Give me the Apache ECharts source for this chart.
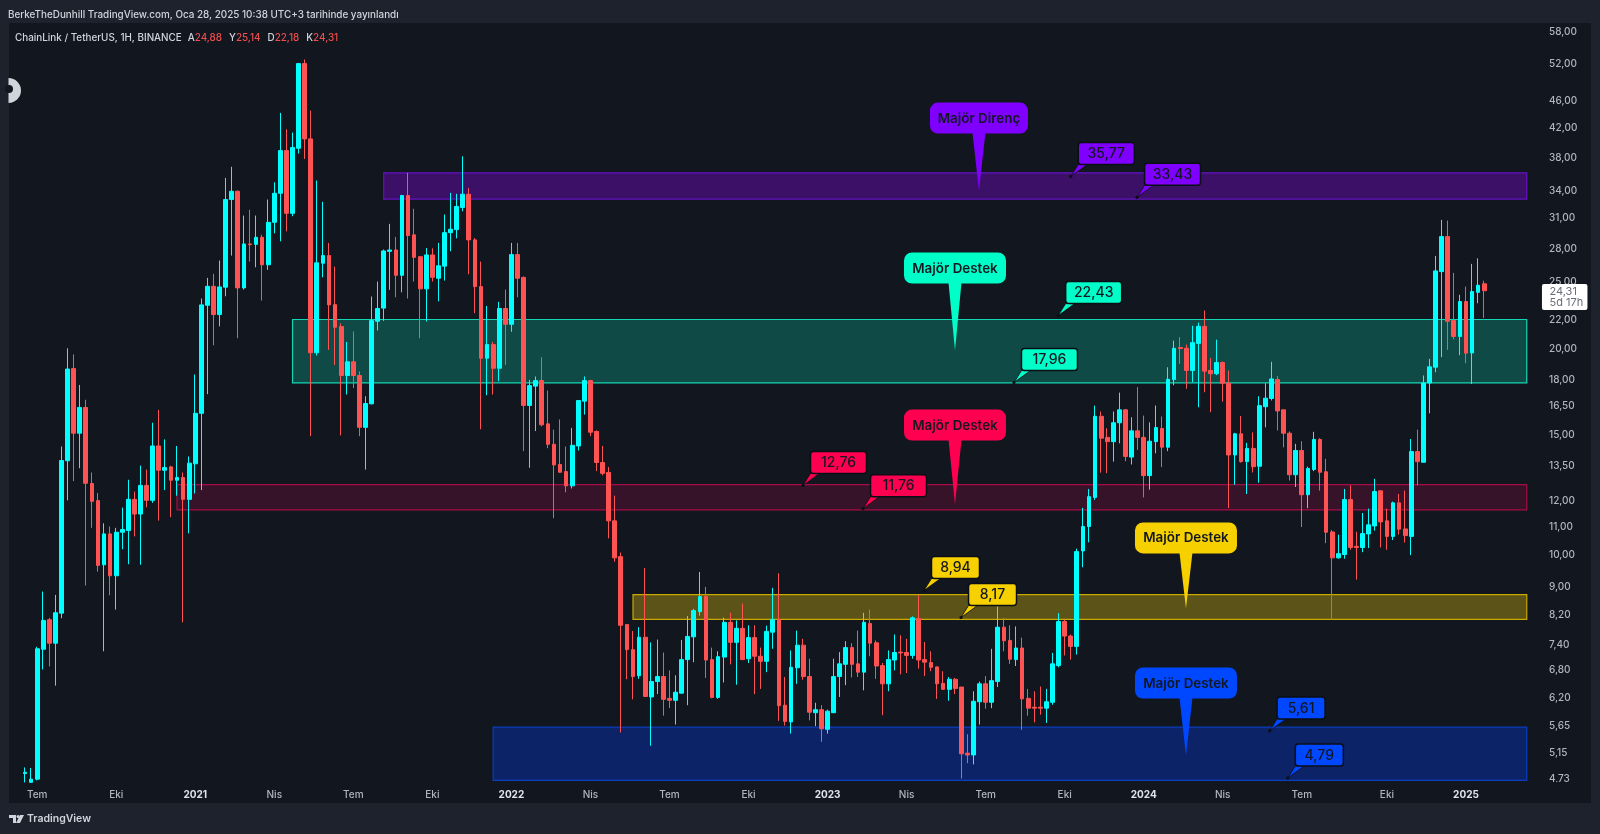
<!DOCTYPE html>
<html>
<head>
<meta charset="utf-8">
<style>html,body{margin:0;padding:0;background:#1e222d}#chart{width:1600px;height:834px}</style>
<script src="https://cdn.jsdelivr.net/npm/echarts@6/dist/echarts.min.js"></script>
</head>
<body>
<div id="chart"></div>
<script>
const opens = [
4.81,4.67,4.72,7.30,8.06,7.45,8.24,13.74,18.72,15.07,
16.43,12.73,12.02,9.69,10.75,9.34,10.81,10.87,12.07,11.49,
12.65,12.03,14.44,13.31,13.46,12.87,12.99,12.07,13.60,16.11,
23.15,24.67,22.44,24.60,33.01,33.94,24.54,28.44,28.40,29.08,
26.52,30.58,33.71,38.90,31.52,39.21,52.09,40.46,19.74,26.66,
27.35,23.20,21.55,18.29,19.15,18.29,15.37,16.63,21.94,22.93,
27.74,27.87,25.60,33.46,29.32,27.25,24.46,27.41,25.35,26.40,
29.54,29.84,32.14,33.60,28.83,24.65,19.38,20.29,18.74,22.90,
21.72,27.44,25.42,16.54,17.65,17.98,15.55,14.52,13.57,13.25,
12.63,14.44,16.78,17.98,15.16,13.66,13.21,11.23,9.96,7.93,
7.29,6.68,7.60,6.22,6.55,6.66,6.19,6.15,6.30,7.05,
7.61,8.28,8.72,7.05,6.21,7.11,7.99,7.47,7.83,7.07,
7.59,7.13,7.01,7.73,8.06,6.05,5.72,6.86,7.40,6.66,
5.90,5.96,5.58,5.90,6.66,6.94,7.34,6.95,6.76,7.96,
7.46,6.91,6.50,7.04,7.23,7.22,7.15,8.09,7.05,6.98,
6.88,6.51,6.38,6.60,6.43,5.15,5.12,6.12,6.50,6.11,
6.55,7.86,7.52,7.05,7.33,6.19,6.01,6.01,5.99,6.11,
6.91,8.01,7.63,7.37,10.15,11.02,12.15,15.95,14.86,14.65,
15.61,16.30,13.91,15.19,14.86,13.07,14.65,15.31,14.38,18.04,
20.09,20.04,18.60,20.37,21.57,18.60,18.40,19.10,17.82,14.01,
15.04,13.70,14.32,13.49,16.47,16.93,18.04,16.30,15.07,13.11,
14.22,12.26,13.34,14.76,13.24,10.82,9.92,10.03,12.06,10.31,
10.27,10.75,11.04,12.42,11.23,10.66,11.93,10.93,10.66,14.17,
13.67,17.84,18.81,25.92,29.15,21.99,20.85,23.44,19.73,24.18,
24.88];
const closes = [
4.83,4.72,7.31,8.04,7.45,8.25,13.75,18.69,15.07,16.43,
12.74,11.99,9.67,10.75,9.34,10.81,10.91,12.07,11.49,12.65,
12.03,14.44,13.31,13.43,12.87,12.99,12.07,13.63,16.11,23.18,
24.67,22.44,24.62,33.01,33.94,24.54,28.44,28.37,29.08,26.52,
30.58,33.71,38.90,31.52,39.30,52.09,40.46,19.74,26.69,27.35,
23.18,21.50,18.29,19.15,18.29,15.37,16.65,21.99,22.90,27.78,
27.87,25.60,33.46,29.25,27.19,24.46,27.41,25.43,26.43,29.54,
29.88,32.25,33.60,28.83,24.65,19.38,20.29,18.74,22.90,21.72,
27.44,25.35,16.54,17.68,17.98,15.50,14.52,13.55,13.22,12.63,
14.47,16.82,17.98,15.12,13.66,13.17,11.23,9.92,7.91,7.29,
6.66,7.60,6.23,6.55,6.66,6.17,6.15,6.32,7.05,7.62,
8.31,8.71,7.04,6.21,7.12,7.99,7.47,7.83,7.05,7.59,
7.13,7.01,7.75,8.06,6.04,5.73,6.87,7.40,6.66,5.91,
5.96,5.59,5.93,6.66,6.95,7.34,6.94,6.76,7.99,7.45,
6.90,6.50,7.05,7.22,7.21,7.15,8.11,7.04,6.99,6.87,
6.50,6.38,6.60,6.40,5.14,5.12,6.13,6.50,6.11,6.57,
7.86,7.51,7.06,7.33,6.18,5.99,5.99,5.99,6.12,6.95,
8.01,7.63,7.37,10.13,11.02,12.18,15.95,14.82,14.65,15.61,
16.30,13.94,15.19,14.86,13.07,14.67,15.36,14.38,18.06,20.04,
20.02,18.60,20.42,21.57,18.56,18.40,19.10,17.82,14.01,15.04,
13.70,14.32,13.47,16.53,16.95,18.08,16.24,15.07,13.11,14.22,
12.26,13.39,14.76,13.22,10.81,9.92,10.06,12.06,10.27,10.27,
10.76,11.08,12.39,11.19,10.66,11.93,10.92,10.69,14.17,13.70,
17.84,18.83,25.98,29.15,21.94,20.85,23.44,19.71,24.24,24.76,
24.31];
const highs = [
4.91,4.90,7.36,8.86,8.11,8.76,14.41,20.04,19.63,17.72,
16.86,13.21,12.33,11.14,11.02,10.97,11.74,12.89,12.39,13.52,
13.34,15.61,16.30,14.76,13.51,14.44,13.21,13.94,18.35,23.68,
25.38,25.72,26.90,35.50,36.84,34.02,31.28,31.89,31.28,29.34,
33.01,34.98,44.15,41.78,41.32,52.21,52.81,44.49,35.18,32.76,
28.54,26.36,21.79,20.47,21.20,18.54,17.06,23.84,25.07,27.91,
30.42,29.12,33.53,36.10,32.00,27.25,28.06,28.03,28.54,31.39,
33.76,33.65,38.16,34.33,29.02,26.81,23.10,20.47,23.42,24.40,
28.54,28.54,25.50,18.02,18.23,19.45,17.39,15.25,15.78,14.41,
15.34,16.82,18.23,18.02,15.21,14.44,13.46,12.22,10.10,7.93,
7.76,7.86,9.59,7.47,7.54,7.22,6.80,6.69,7.53,8.16,
8.36,9.46,9.00,7.34,7.25,8.12,8.25,8.04,8.51,7.91,
7.91,7.34,7.90,8.97,9.42,6.65,7.27,7.77,7.56,7.07,
6.10,6.05,5.96,7.07,7.23,7.50,7.45,7.77,8.25,8.34,
7.52,6.97,7.27,7.67,7.65,7.56,8.15,8.75,7.48,7.25,
6.89,6.78,6.65,6.63,6.43,5.49,6.34,6.55,6.67,7.31,
8.43,8.11,7.91,7.88,7.59,6.39,6.34,6.44,6.39,7.21,
8.24,8.06,7.67,10.23,11.73,12.50,16.53,16.21,15.32,16.21,
17.27,16.35,15.90,17.59,15.99,15.63,16.54,15.94,18.80,20.56,
20.80,20.29,21.61,21.84,22.74,19.40,20.63,19.17,18.60,15.09,
15.97,14.59,15.11,17.06,17.82,19.15,18.27,16.30,15.16,14.54,
14.67,13.47,15.14,14.82,13.83,10.89,10.72,12.50,12.65,10.83,
11.53,11.70,12.93,12.43,11.70,11.98,12.29,12.43,14.78,15.25,
18.29,19.34,27.32,30.83,30.76,25.81,23.98,24.65,26.60,27.10,
25.14];
const lows = [
4.67,4.66,4.70,6.82,6.89,6.46,8.10,12.03,12.83,13.40,
9.04,10.97,9.47,7.25,8.75,8.34,10.21,9.71,10.66,9.69,
11.75,11.93,11.24,12.45,11.37,12.22,7.99,10.77,12.31,12.45,
17.18,20.24,21.57,23.86,27.35,20.73,24.40,26.81,26.30,23.52,
26.07,29.47,28.69,29.67,31.21,38.51,37.82,14.92,19.56,25.43,
19.93,18.95,14.96,17.16,17.54,14.92,13.34,16.60,21.27,21.97,
24.38,23.78,24.18,23.68,25.07,20.73,21.92,25.07,23.46,25.15,
27.75,28.98,31.74,25.69,22.54,15.27,17.12,17.16,17.94,18.95,
21.18,23.78,14.19,13.42,15.18,15.42,14.33,11.33,13.20,12.36,
12.52,14.22,16.04,14.92,13.27,13.08,10.59,9.79,5.52,6.60,
6.17,6.61,6.22,5.28,6.28,5.84,5.99,5.67,6.29,6.05,
6.99,8.17,6.63,6.19,6.18,6.53,6.94,6.48,7.05,6.97,
6.28,6.39,6.76,7.31,5.74,5.65,5.50,6.50,6.59,5.75,
5.64,5.35,5.50,5.89,6.22,6.47,6.64,6.65,6.36,7.13,
6.61,5.85,6.34,6.80,6.71,6.74,7.07,6.84,6.67,6.78,
6.18,6.37,6.14,6.28,4.73,4.98,4.96,5.67,5.98,5.99,
6.43,7.25,6.95,6.90,5.57,5.84,5.71,5.86,5.70,6.06,
6.87,7.15,7.05,7.17,9.61,10.45,12.05,13.20,13.18,13.70,
14.57,13.72,13.57,14.25,12.15,12.47,14.09,13.45,14.19,17.70,
19.02,17.49,17.88,16.44,17.29,16.17,18.31,16.76,11.72,12.68,
13.65,12.29,13.21,12.76,15.37,16.82,15.21,14.37,12.86,12.58,
11.00,11.72,13.27,12.43,10.42,8.06,9.89,9.89,10.19,9.22,
10.11,10.25,10.87,10.27,10.19,10.53,10.72,10.44,10.01,12.65,
13.67,16.11,18.49,19.45,19.93,20.65,19.58,19.06,17.78,23.31,
22.18];

// weekly categories, first bar = 22 Jun 2020, slots continue past the last bar
const categories = [];
for (let k = 0; k < 248; k++) categories.push(new Date(Date.UTC(2020, 5, 22 + 7 * k)).toISOString().slice(0, 10));

const timeLabelIdx = [2,15,28,41,54,67,80,93,106,119,132,145,158,171,184,197,210,224,237];
const timeLabelText = ['Tem','Eki','2021','Nis','Tem','Eki','2022','Nis','Tem','Eki','2023','Nis','Tem','Eki','2024','Nis','Tem','Eki','2025'];
const yTicks = [58,52,46,42,38,34,31,28,25,22,20,18,16.5,15,13.5,12,11,10,9,8.2,7.4,6.8,6.2,5.65,5.15,4.73];

// horizontal zones
const zoneStart = [59,44,25,100,77];
const zoneEnd = [247,247,247,247,247];
const zoneTop = [36.10,22.07,12.68,8.77,5.62];
const zoneBottom = [33.06,17.84,11.65,8.07,4.70];
const zoneFill = ['#3c1066','#0f4a47','#361329','#5c5318','#0c2368'];
const zoneStroke = ['#6312c4','#12d6b4','#a80c44','#c9a800','#0a3fbf'];

// callout bubbles
const bubbleText = ['Majör Direnç','Majör Destek','Majör Destek','Majör Destek','Majör Destek'];
const bubbleIdx = [156.9,152.96,152.96,190.95,190.95];
const bubbleTip = [34.02,19.89,11.86,8.37,5.11];
const bubbleRise = [57,67,64,55,57];
const bubbleWidth = [98,102,102,102,102];
const bubbleColor = ['#7f00ff','#00ffc8','#ff0050','#f7d000','#0048ff'];

// price tags
const tagText = ['35,77','33,43','22,43','17,96','12,76','11,76','8,94','8,17','5,61','4,79'];
const tagIdx = [172,182.9,169.93,162.66,127.96,137.83,147.86,153.95,204.7,207.7];
const tagPoint = [35.66,33.26,22.36,17.86,12.65,11.70,8.89,8.12,5.55,4.74];
const tagColor = ['#7f00ff','#7f00ff','#00ffc8','#00ffc8','#ff0050','#ff0050','#f7d000','#f7d000','#0048ff','#0048ff'];

const lastIdx = closes.length - 1;
const fmt = v => v.toFixed(2).replace('.', ',');
const FONT = 'Inter, "Noto Sans", sans-serif';

function xAt(api, ix, p) {
  const f = Math.floor(ix);
  const a = api.coord([f, p]);
  const b = api.coord([f + 1, p]);
  return [a[0] + (ix - f) * (b[0] - a[0]), a[1]];
}
function txt(x, y, text, fill, font, align) {
  return { type: 'text', style: { x, y, text, fill, font, align: align || 'center', verticalAlign: 'middle', textAlign: align || 'center', textVerticalAlign: 'middle' } };
}

const chart = echarts.init(document.getElementById('chart'), null, { renderer: 'canvas' });
chart.setOption({
  animation: false,
  backgroundColor: '#1e222d',
  title: {
    left: 15, top: 33, padding: 0, itemGap: 0,
    text: '{w|ChainLink / TetherUS, 1H, BINANCE}{f| }{w|A}{r|' + fmt(opens[lastIdx]) + '}{g| }{w|Y}{r|' + fmt(highs[lastIdx]) + '}{g| }{w|D}{r|' + fmt(lows[lastIdx]) + '}{g| }{w|K}{r|' + fmt(closes[lastIdx]) + '}',
    textStyle: {
      fontSize: 9.9, fontFamily: FONT, fontWeight: 500,
      rich: {
        w: { color: '#d1d4dc', fontSize: 9.9, fontFamily: FONT, fontWeight: 500 },
        r: { color: '#ef4d4d', fontSize: 9.9, fontFamily: FONT, fontWeight: 500 },
        f: { width: 6, fontSize: 9.9 },
        g: { width: 7, fontSize: 9.9 }
      }
    }
  },
  graphic: [
    { type: 'rect', z: -10, silent: true, shape: { x: 9, y: 23, width: 1582, height: 780 }, style: { fill: '#12161f' } },
    { type: 'text', z: 1, silent: true, style: { x: 8, y: 15, text: 'BerkeTheDunhill TradingView.com, Oca 28, 2025 10:38 UTC+3 tarihinde yayınlandı', fill: '#d1d4dc', font: '500 9.9px ' + FONT, verticalAlign: 'middle' } },
    { type: 'rect', z: 100, silent: true, shape: { x: 1540, y: 782, width: 50, height: 21 }, style: { fill: '#12161f' } },
    { type: 'sector', z: 100, silent: true, shape: { cx: 8.5, cy: 90.5, r: 12.5, r0: 0, startAngle: -Math.PI / 2, endAngle: Math.PI / 2 }, style: { fill: '#d1d5db' } },
    { type: 'circle', z: 101, silent: true, shape: { cx: 9, cy: 89, r: 4 }, style: { fill: '#12161f' } },
    { type: 'polygon', z: 100, silent: true, shape: { points: [[9,815],[16,815],[16,823],[13,823],[13,818],[9,818]] }, style: { fill: '#d1d4dc' } },
    { type: 'circle', z: 100, silent: true, shape: { cx: 18, cy: 816.5, r: 1.5 }, style: { fill: '#d1d4dc' } },
    { type: 'polygon', z: 100, silent: true, shape: { points: [[20,815],[24,815],[20,823],[16,823]] }, style: { fill: '#d1d4dc' } },
    { type: 'text', z: 100, silent: true, style: { x: 27, y: 819, text: 'TradingView', fill: '#d1d4dc', font: '600 10.5px ' + FONT, verticalAlign: 'middle' } }
  ],
  grid: { left: 21.96, right: 70.2, top: 23.7, bottom: 50.3, containLabel: false },
  xAxis: {
    type: 'category', data: categories, boundaryGap: true,
    axisLine: { show: false }, axisTick: { show: false }, splitLine: { show: false },
    axisLabel: {
      margin: 6, hideOverlap: false,
      interval: (index) => timeLabelIdx.indexOf(index) >= 0,
      formatter: (value, index) => {
        const t = timeLabelText[timeLabelIdx.indexOf(index)];
        return /^\d+$/.test(t) ? '{y|' + t + '}' : '{m|' + t + '}';
      },
      rich: {
        y: { color: '#e0e3eb', fontSize: 10, fontWeight: 700, fontFamily: FONT },
        m: { color: '#b2b5be', fontSize: 10, fontWeight: 500, fontFamily: FONT }
      }
    }
  },
  yAxis: {
    type: 'log', logBase: Math.E, min: 4.649, max: 59.55, position: 'right',
    axisLine: { show: false }, axisTick: { show: false }, splitLine: { show: false }, minorTick: { show: false }, minorSplitLine: { show: false },
    axisLabel: {
      customValues: yTicks, margin: 19.2, align: 'left', hideOverlap: false, padding: [2, 0, 0, 0],
      color: '#b2b5be', fontSize: 10, fontFamily: FONT, fontWeight: 500,
      formatter: v => fmt(+v)
    }
  },
  series: [
    {
      type: 'custom', name: 'zones', z: 1, silent: true, clip: false,
      data: zoneTop.map((t, k) => [zoneStart[k], t, zoneBottom[k]]),
      renderItem: (params, api) => {
        const k = params.dataIndex;
        const a = api.coord([zoneStart[k], zoneTop[k]]);
        const b = api.coord([zoneEnd[k], zoneBottom[k]]);
        return { type: 'rect', shape: { x: a[0], y: a[1], width: b[0] - a[0], height: b[1] - a[1] }, style: { fill: zoneFill[k], stroke: zoneStroke[k], lineWidth: 1.2 } };
      }
    },
    {
      type: 'candlestick', name: 'LINK/USDT', z: 2, barWidth: 4.2, clip: true,
      data: opens.map((o, i) => [o, closes[i], lows[i], highs[i]]),
      itemStyle: { color: '#00ffff', color0: '#ff5252', borderColor: '#00ffff', borderColor0: '#ff5252', borderWidth: 1 }
    },
    {
      type: 'custom', name: 'tags', z: 5, silent: true, clip: false,
      data: tagText.map((t, k) => [Math.round(tagIdx[k]), tagPoint[k]]),
      renderItem: (params, api) => {
        const k = params.dataIndex;
        const p = xAt(api, tagIdx[k], tagPoint[k]);
        const w = tagText[k].length > 4 ? 56 : 48;
        const h = 22;
        const bx = p[0] + 7.5, by = p[1] - 12 - h;
        return { type: 'group', children: [
          { type: 'polygon', shape: { points: [[p[0], p[1]], [bx, by + h], [bx + 9, by + h]] }, style: { fill: tagColor[k], stroke: '#0b0e14', lineWidth: 0.8 } },
          { type: 'circle', shape: { cx: p[0], cy: p[1], r: 1.6 }, style: { fill: '#0b0e14' } },
          { type: 'rect', shape: { x: bx, y: by, width: w, height: h, r: 3 }, style: { fill: tagColor[k], stroke: '#0b0e14', lineWidth: 1.5 } },
          txt(bx + w / 2, by + h / 2 + 0.5, tagText[k], '#131722', '500 14px ' + FONT)
        ] };
      }
    },
    {
      type: 'custom', name: 'bubbles', z: 6, silent: true, clip: false,
      data: bubbleText.map((t, k) => [Math.round(bubbleIdx[k]), bubbleTip[k]]),
      renderItem: (params, api) => {
        const k = params.dataIndex;
        const p = xAt(api, bubbleIdx[k], bubbleTip[k]);
        const w = bubbleWidth[k], h = 31;
        const by = p[1] - bubbleRise[k] - h;
        return { type: 'group', children: [
          { type: 'polygon', shape: { points: [[p[0], p[1]], [p[0] - 6.5, by + h - 1], [p[0] + 6.5, by + h - 1]] }, style: { fill: bubbleColor[k] } },
          { type: 'rect', shape: { x: p[0] - w / 2, y: by, width: w, height: h, r: 8 }, style: { fill: bubbleColor[k] } },
          txt(p[0], by + h / 2 + 0.5, bubbleText[k], '#131722', '600 13.4px ' + FONT)
        ] };
      }
    },
    {
      type: 'custom', name: 'lastPrice', z: 7, silent: true, clip: false,
      data: [[lastIdx, closes[lastIdx]]],
      renderItem: (params, api) => {
        const p = api.coord([categories.length - 1, closes[lastIdx]]);
        const x = p[0] + 15.2, y = p[1] - 6.7;
        return { type: 'group', children: [
          { type: 'rect', shape: { x, y, width: 45.5, height: 26, r: 2 }, style: { fill: '#ffffff' } },
          txt(x + 7.5, y + 7.5, fmt(closes[lastIdx]), '#6a6d78', '400 11px ' + FONT, 'left'),
          txt(x + 7.5, y + 19, '5d 17h', '#6a6d78', '400 11px ' + FONT, 'left')
        ] };
      }
    }
  ]
});
</script>
</body>
</html>
